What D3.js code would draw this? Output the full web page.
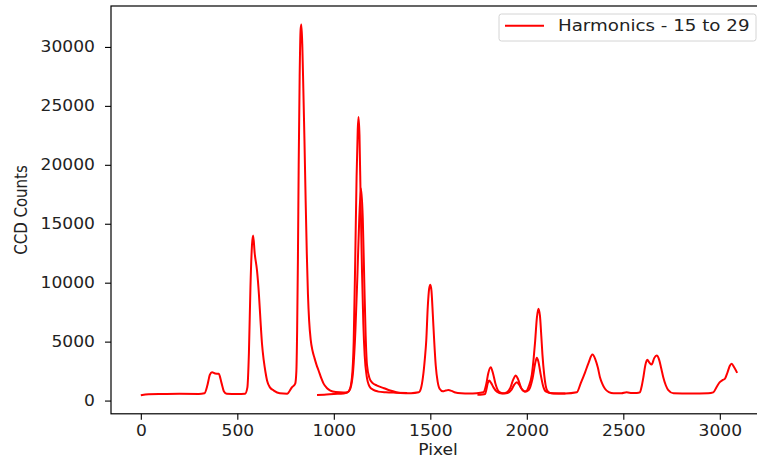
<!DOCTYPE html>
<html>
<head>
<meta charset="utf-8">
<script src="https://cdn.jsdelivr.net/npm/d3@7"></script>
<style>
  html, body { margin: 0; padding: 0; background: #fff; }
  svg { display: block; }
  text { font-family: "DejaVu Sans", sans-serif; fill: #222; }
</style>
</head>
<body>
<svg id="chart" width="757" height="458"></svg>
<script>
// Spectrum pieces (pixel position, CCD counts); each piece is one exposure window.
const seg1Pixel = [0, 40, 100, 200, 300, 330, 345, 358, 369, 385, 404, 418, 430, 445, 500, 540, 552, 560, 568, 576, 582, 590, 602, 612, 620, 628, 637, 646, 654, 670, 689, 720, 758, 783, 800, 806, 810, 814, 818, 823, 828, 832, 837, 842, 848, 854, 860, 866, 872, 880, 890, 900, 910, 921, 935, 947, 965, 982, 1010, 1050, 1068, 1080, 1094, 1103, 1111, 1118, 1124, 1128, 1133, 1139, 1146, 1153, 1160, 1170, 1185, 1205, 1230, 1270, 1320, 1380];
const seg1Counts = [450, 540, 560, 570, 560, 620, 1300, 2200, 2400, 2300, 2270, 1500, 800, 580, 550, 580, 1100, 4000, 9600, 13200, 14000, 12500, 11040, 9000, 6800, 4800, 3400, 2400, 1700, 1100, 850, 620, 580, 1130, 1440, 2500, 6000, 12000, 20000, 27500, 31500, 31900, 30000, 26500, 22000, 17000, 12500, 9000, 6800, 5200, 4200, 3600, 3050, 2550, 1900, 1440, 1050, 850, 720, 680, 700, 850, 1980, 5000, 12000, 19000, 23000, 24065, 22500, 17000, 11000, 6500, 3800, 2100, 1200, 900, 760, 700, 670, 650];

const seg2Pixel = [913, 950, 1000, 1050, 1068, 1085, 1100, 1112, 1122, 1132, 1141, 1150, 1158, 1165, 1172, 1185, 1200, 1224, 1260, 1292, 1320, 1344, 1400, 1440, 1451, 1462, 1472, 1479, 1487, 1494, 1500, 1506, 1513, 1520, 1528, 1538, 1548, 1565, 1580, 1594, 1610, 1630, 1660, 1700, 1740, 1775, 1790, 1800, 1813, 1825, 1838, 1853, 1875, 1896, 1915, 1930, 1943, 1955, 1970, 1985, 1995, 2010, 2026, 2035, 2043, 2052, 2060, 2068, 2075, 2081, 2090, 2104, 2120, 2160, 2200];
const seg2Counts = [480, 500, 560, 600, 650, 1000, 2500, 6000, 10500, 15500, 17980, 15500, 10000, 5500, 3000, 1900, 1500, 1270, 1050, 850, 720, 650, 630, 700, 1000, 2000, 3600, 5100, 8000, 9500, 9825, 9300, 7300, 5100, 3000, 1600, 1000, 780, 850, 900, 820, 680, 620, 600, 620, 700, 1400, 2300, 2830, 2300, 1400, 800, 620, 700, 1100, 1800, 2120, 1800, 1100, 800, 780, 1200, 2200, 3500, 5000, 7000, 7790, 7200, 5500, 3900, 2200, 900, 650, 600, 600];

const seg3Pixel = [1744, 1770, 1784, 1790, 1798, 1805, 1815, 1828, 1845, 1870, 1900, 1920, 1935, 1948, 1960, 1975, 1990, 2010, 2030, 2044, 2052, 2060, 2072, 2085, 2100, 2130, 2200, 2259, 2280, 2302, 2320, 2340, 2355, 2368, 2379, 2392, 2405, 2425, 2450, 2490, 2517, 2545, 2570, 2586, 2595, 2604, 2614, 2624, 2636, 2647, 2660, 2673, 2685, 2697, 2707, 2720, 2733, 2760, 2850, 2940, 2966, 2985, 3000, 3015, 3026, 3040, 3052, 3061, 3075, 3090];
const seg3Counts = [500, 520, 560, 900, 1500, 1700, 1500, 1100, 750, 600, 650, 900, 1350, 1560, 1350, 950, 750, 900, 1900, 3200, 3630, 3300, 2200, 1200, 750, 620, 600, 700, 1500, 2400, 3200, 3900, 3500, 2800, 1980, 1400, 1000, 720, 620, 620, 700, 640, 650, 700, 1200, 1980, 3000, 3460, 3200, 3060, 3600, 3820, 3500, 2700, 1980, 1300, 890, 620, 600, 620, 700, 1200, 1560, 1750, 1840, 2400, 2950, 3120, 2800, 2350];

const xTicks = [0, 500, 1000, 1500, 2000, 2500, 3000];
const yTicks = [0, 5000, 10000, 15000, 20000, 25000, 30000];
const seriesName = "Harmonics - 15 to 29";
const xTitle = "Pixel";
const yTitle = "CCD Counts";

const segments = [
  [seg1Pixel, seg1Counts],
  [seg2Pixel, seg2Counts],
  [seg3Pixel, seg3Counts]
].map(([px, ct]) => px.map((p, i) => ({ p, c: ct[i] })));

const STRETCH = 1.14;
const svg = d3.select("#chart");
const plot = { left: 111, top: 6, right: 767, bottom: 413.8 };

// Data limits with a 5% margin on each side
const allPts = segments.flat();
const xExt = d3.extent(allPts, d => d.p);
const yExt = d3.extent(allPts, d => d.c);
const xPad = (xExt[1] - xExt[0]) * 0.05;
const yPad = (yExt[1] - yExt[0]) * 0.05;

const x = d3.scaleLinear().domain([xExt[0] - xPad, xExt[1] + xPad]).range([plot.left, plot.right]);
const y = d3.scaleLinear().domain([yExt[0] - yPad, yExt[1] + yPad]).range([plot.bottom, plot.top]);

// Spectrum lines
const line = d3.line().x(d => x(d.p)).y(d => y(d.c)).curve(d3.curveMonotoneX);
svg.append("g")
  .selectAll("path")
  .data(segments)
  .join("path")
  .attr("d", line)
  .attr("fill", "none")
  .attr("stroke", "#ff0000")
  .attr("stroke-width", 2)
  .attr("stroke-linejoin", "round");

// Frame
svg.append("rect")
  .attr("x", plot.left).attr("y", plot.top)
  .attr("width", plot.right - plot.left).attr("height", plot.bottom - plot.top)
  .attr("fill", "none").attr("stroke", "#000").attr("stroke-width", 1.2);

// Horizontal stretch applied to text glyphs
function stretchText(sel) {
  sel.each(function () {
    const t = d3.select(this);
    const tx = +t.attr("x") || 0;
    const ty = +t.attr("y") || 0;
    t.attr("x", 0).attr("y", 0)
      .attr("transform", `translate(${tx},${ty}) scale(${STRETCH},1)`);
  });
}

const xAxis = svg.append("g")
  .attr("transform", `translate(0,${plot.bottom})`)
  .call(d3.axisBottom(x).tickValues(xTicks).tickFormat(d3.format("d")).tickSize(6).tickPadding(5.6));
const yAxis = svg.append("g")
  .attr("transform", `translate(${plot.left},0)`)
  .call(d3.axisLeft(y).tickValues(yTicks).tickFormat(d3.format("d")).tickSize(6).tickPadding(10));

[xAxis, yAxis].forEach(g => {
  g.select(".domain").remove();
  g.selectAll(".tick line").attr("stroke", "#000").attr("stroke-width", 1.1);
  g.selectAll(".tick text")
    .attr("font-family", "DejaVu Sans")
    .attr("font-size", 15)
    .attr("fill", "#222")
    .call(stretchText);
});

// Axis titles
svg.append("text")
  .attr("text-anchor", "middle")
  .attr("font-size", 15)
  .attr("transform", `translate(438,455) scale(${STRETCH},1)`)
  .text(xTitle);

svg.append("text")
  .attr("text-anchor", "middle")
  .attr("font-size", 15)
  .attr("transform", `translate(27,210) scale(${STRETCH},1) rotate(-90)`)
  .text(yTitle);

// Legend
const legend = svg.append("g");
legend.append("rect")
  .attr("x", 499).attr("y", 14)
  .attr("width", 257).attr("height", 27)
  .attr("rx", 2.5)
  .attr("fill", "#fff").attr("fill-opacity", 0.8)
  .attr("stroke", "#d4d4d4").attr("stroke-width", 1);
legend.append("line")
  .attr("x1", 505).attr("x2", 544)
  .attr("y1", 25.7).attr("y2", 25.7)
  .attr("stroke", "#ff0000").attr("stroke-width", 2);
legend.append("text")
  .attr("font-size", 16)
  .attr("transform", `translate(558,31.4) scale(${STRETCH},1)`)
  .text(seriesName);
</script>
</body>
</html>
